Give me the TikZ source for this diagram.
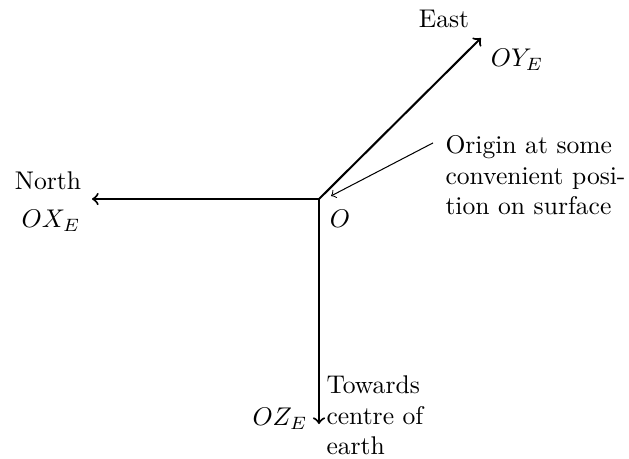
\documentclass[tikz,border=0pt]{standalone}
\usepackage{amsmath,amssymb}
\usepackage{tikz}
\usetikzlibrary{arrows.meta,positioning}

\begin{document}
\begin{tikzpicture}[x=0.01374cm,y=-0.01374cm,>=to, axis/.style={thick,->}, note/.style={align=left,inner sep=0pt}]
\useasboundingbox (0,0) rectangle (629,458);
\coordinate (O) at (319,199);
\coordinate (north) at (92,199);
\coordinate (east) at (481,38);
\coordinate (down) at (319,424);
\draw[axis] (O) -- (north);
\draw[axis] (O) -- (east);
\draw[axis] (O) -- (down);
\node (olbl) at (340,219) {$O$};
\node (nlbl) at (48,181) {North};
\node (xlbl) at (51,221) {$OX_E$};
\node (elbl) at (444,19) {East};
\node (ylbl) at (517,60) {$OY_E$};
\node[anchor=east,inner sep=0pt] (zlbl) at (308,419) {$OZ_E$};
\node[note,anchor=north west] (toward) at (326,375) {Towards\\centre of\\earth};
\node[note,anchor=north west] (origin) at (445,135) {Origin at some\\convenient posi-\\tion on surface};
\draw[->] ([shift={(-4.7pt,-3.1pt)}]origin.north west) -- ([shift={(4.7pt,1.2pt)}]O);
\end{tikzpicture}
\end{document}
